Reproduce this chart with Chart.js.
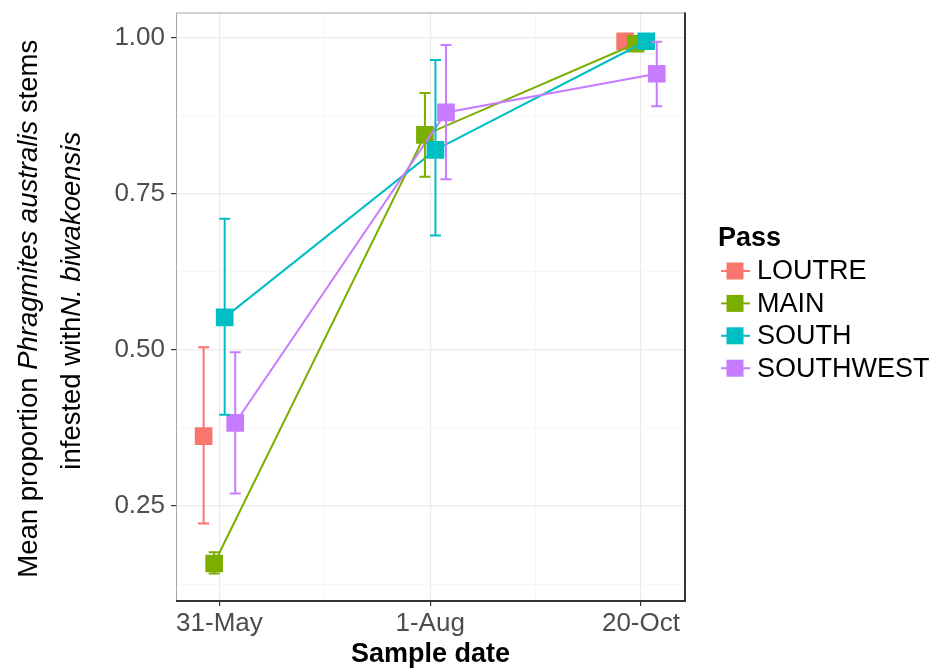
<!DOCTYPE html>
<html>
<head>
<meta charset="utf-8">
<script src="https://cdn.jsdelivr.net/npm/chart.js@4.4.1/dist/chart.umd.min.js"></script>
<style>
  html, body { margin: 0; padding: 0; background: #fff; }
</style>
</head>
<body>
<canvas id="chart" width="938" height="671"></canvas>
<script>
// sample dates on the x axis (categories)
const dates = ['31-May', '1-Aug', '20-Oct'];
const passes = ['LOUTRE', 'MAIN', 'SOUTH', 'SOUTHWEST'];
const passColors = ['#F8766D', '#7CAE00', '#00BFC4', '#C77CFF'];

// mean proportion infested, one value per date
const loutreMean = [0.362, null, 0.994];
const mainMean = [0.158, 0.844, 0.990];
const southMean = [0.552, 0.820, 0.994];
const southwestMean = [0.383, 0.880, 0.942];

// error bar ends (null = no bar drawn)
const loutreLow = [0.222, null, null];
const loutreHigh = [0.504, null, null];
const mainLow = [0.142, 0.777, null];
const mainHigh = [0.176, 0.911, null];
const southLow = [0.396, 0.683, null];
const southHigh = [0.710, 0.964, null];
const southwestLow = [0.270, 0.773, 0.890];
const southwestHigh = [0.496, 0.988, 0.993];

const yMajorTicks = [0.25, 0.5, 0.75, 1.0];
const yTickLabels = ['0.25', '0.50', '0.75', '1.00'];
const yMinorTicks = [0.125, 0.375, 0.625, 0.875];
const xMinorTicks = [1.5, 2.5];

const means = [loutreMean, mainMean, southMean, southwestMean];
const lows = [loutreLow, mainLow, southLow, southwestLow];
const highs = [loutreHigh, mainHigh, southHigh, southwestHigh];

const FONT = "'Liberation Sans', Arial, sans-serif";
const DODGE = 0.05;

const datasets = passes.map((name, i) => ({
  label: name,
  data: means[i].map((v, j) => ({ x: j + 1 + (i - 1.5) * DODGE, y: v })),
  errLow: lows[i],
  errHigh: highs[i],
  borderColor: passColors[i],
  backgroundColor: passColors[i],
  borderWidth: 2,
  pointStyle: 'rect',
  pointRadius: 12.5,
  pointHoverRadius: 12.5,
  pointBorderWidth: 0,
  tension: 0,
  spanGaps: false,
  order: passes.length - i
}));

// error bars drawn with the chart scales
const errorBars = {
  id: 'errorBars',
  afterDatasetsDraw(chart) {
    const { ctx, scales: { x, y } } = chart;
    chart.data.datasets.forEach(ds => {
      ctx.save();
      ctx.strokeStyle = ds.borderColor;
      ctx.lineWidth = 2;
      ds.data.forEach((p, j) => {
        const lo = ds.errLow[j], hi = ds.errHigh[j];
        if (lo == null || hi == null) return;
        const px = x.getPixelForValue(p.x);
        const y1 = y.getPixelForValue(lo), y2 = y.getPixelForValue(hi);
        ctx.beginPath();
        ctx.moveTo(px, y1); ctx.lineTo(px, y2);
        ctx.moveTo(px - 5.5, y1); ctx.lineTo(px + 5.5, y1);
        ctx.moveTo(px - 5.5, y2); ctx.lineTo(px + 5.5, y2);
        ctx.stroke();
      });
      ctx.restore();
    });
  }
};

// panel border
const panelFrame = {
  id: 'panelFrame',
  beforeDatasetsDraw(chart) {
    const { ctx, chartArea: a } = chart;
    ctx.save();
    ctx.lineWidth = 1;
    ctx.strokeStyle = '#A6A6A6';
    ctx.beginPath();
    ctx.moveTo(a.left + 0.5, a.bottom); ctx.lineTo(a.left + 0.5, a.top + 0.5);
    ctx.lineTo(a.right, a.top + 0.5);
    ctx.stroke();
    ctx.lineWidth = 2;
    ctx.strokeStyle = '#333333';
    ctx.beginPath();
    ctx.moveTo(a.left, a.bottom); ctx.lineTo(a.right, a.bottom); ctx.lineTo(a.right, a.top);
    ctx.stroke();
    ctx.restore();
  }
};

function drawMixed(ctx, parts, cx, baseY, size) {
  let total = 0;
  parts.forEach(p => {
    ctx.font = (p.italic ? 'italic ' : '') + size + 'px ' + FONT;
    p.w = ctx.measureText(p.text).width;
    total += p.w;
  });
  let x = cx - total / 2;
  parts.forEach(p => {
    ctx.font = (p.italic ? 'italic ' : '') + size + 'px ' + FONT;
    ctx.fillText(p.text, x, baseY);
    x += p.w;
  });
}

// y axis title with italic species names
const yTitle = {
  id: 'yTitle',
  afterDraw(chart) {
    const { ctx, chartArea: a } = chart;
    const cy = (a.top + a.bottom) / 2;
    ctx.save();
    ctx.fillStyle = '#000';
    ctx.textBaseline = 'alphabetic';
    ctx.textAlign = 'left';
    ctx.translate(37, cy + 2);
    ctx.rotate(-Math.PI / 2);
    drawMixed(ctx, [
      { text: 'Mean proportion ' },
      { text: 'Phragmites australis', italic: true },
      { text: ' stems' }
    ], 0, 0, 27.5);
    ctx.restore();
    ctx.save();
    ctx.fillStyle = '#000';
    ctx.textBaseline = 'alphabetic';
    ctx.textAlign = 'left';
    ctx.translate(80, cy - 6);
    ctx.rotate(-Math.PI / 2);
    drawMixed(ctx, [
      { text: 'infested with' },
      { text: 'N. biwakoensis', italic: true }
    ], 0, 0, 27.5);
    ctx.restore();
  }
};

// legend on the right
const passLegend = {
  id: 'passLegend',
  afterDraw(chart) {
    const { ctx } = chart;
    ctx.save();
    ctx.textBaseline = 'middle';
    ctx.textAlign = 'left';
    ctx.fillStyle = '#000';
    ctx.font = 'bold 27px ' + FONT;
    ctx.fillText('Pass', 718, 239);
    ctx.font = '27px ' + FONT;
    chart.data.datasets.forEach((ds, i) => {
      const cy = 271 + i * 32.4;
      ctx.strokeStyle = ds.borderColor;
      ctx.lineWidth = 2;
      ctx.beginPath();
      ctx.moveTo(721, cy); ctx.lineTo(750, cy);
      ctx.stroke();
      ctx.fillStyle = ds.backgroundColor;
      ctx.fillRect(735 - 8.5, cy - 8.5, 17, 17);
      ctx.fillStyle = '#000';
      ctx.fillText(ds.label, 757, cy + 1);
    });
    ctx.restore();
  }
};

const isMajorY = v => yMajorTicks.some(t => Math.abs(t - v) < 1e-6);
const isMajorX = v => Number.isInteger(v);

new Chart(document.getElementById('chart').getContext('2d'), {
  type: 'line',
  data: { datasets },
  options: {
    responsive: false,
    animation: false,
    devicePixelRatio: 1,
    layout: { padding: { left: 100, right: 253, top: 11, bottom: 0 } },
    plugins: {
      legend: { display: false },
      tooltip: { enabled: false }
    },
    scales: {
      x: {
        type: 'linear',
        min: 0.794,
        max: 3.209,
        afterBuildTicks: scale => {
          scale.ticks = [1, 1.5, 2, 2.5, 3].map(v => ({ value: v }));
        },
        afterFit: scale => {
          scale.height = 70;
          scale.paddingLeft = 0;
          scale.paddingRight = 0;
        },
        ticks: {
          autoSkip: false,
          maxRotation: 0,
          padding: 2,
          color: '#4D4D4D',
          font: { family: FONT, size: 26 },
          callback: v => isMajorX(v) ? dates[v - 1] : ''
        },
        grid: {
          color: c => isMajorX(c.tick.value) ? '#EBEBEB' : '#F4F4F4',
          lineWidth: c => isMajorX(c.tick.value) ? 1.2 : 0.7,
          tickColor: c => isMajorX(c.tick.value) ? '#333333' : 'rgba(0,0,0,0)',
          tickLength: 5,
          tickWidth: 1.2
        },
        border: { display: false },
        title: {
          display: true,
          text: 'Sample date',
          color: '#000',
          font: { family: FONT, size: 27, weight: 'bold' },
          padding: { top: 0, bottom: 0 }
        }
      },
      y: {
        type: 'linear',
        min: 0.098,
        max: 1.04,
        afterBuildTicks: scale => {
          scale.ticks = yMinorTicks.concat(yMajorTicks).sort((a, b) => a - b).map(v => ({ value: v }));
        },
        afterFit: scale => {
          scale.width = 76;
          scale.paddingTop = 0;
          scale.paddingBottom = 0;
        },
        ticks: {
          padding: 6,
          color: '#4D4D4D',
          font: { family: FONT, size: 26 },
          callback: v => isMajorY(v) ? yTickLabels[yMajorTicks.findIndex(t => Math.abs(t - v) < 1e-6)] : ''
        },
        grid: {
          color: c => isMajorY(c.tick.value) ? '#EBEBEB' : '#F4F4F4',
          lineWidth: c => isMajorY(c.tick.value) ? 1.2 : 0.7,
          tickColor: c => isMajorY(c.tick.value) ? '#333333' : 'rgba(0,0,0,0)',
          tickLength: 5,
          tickWidth: 1.2
        },
        border: { display: false }
      }
    }
  },
  plugins: [panelFrame, errorBars, yTitle, passLegend]
});
</script>
</body>
</html>
